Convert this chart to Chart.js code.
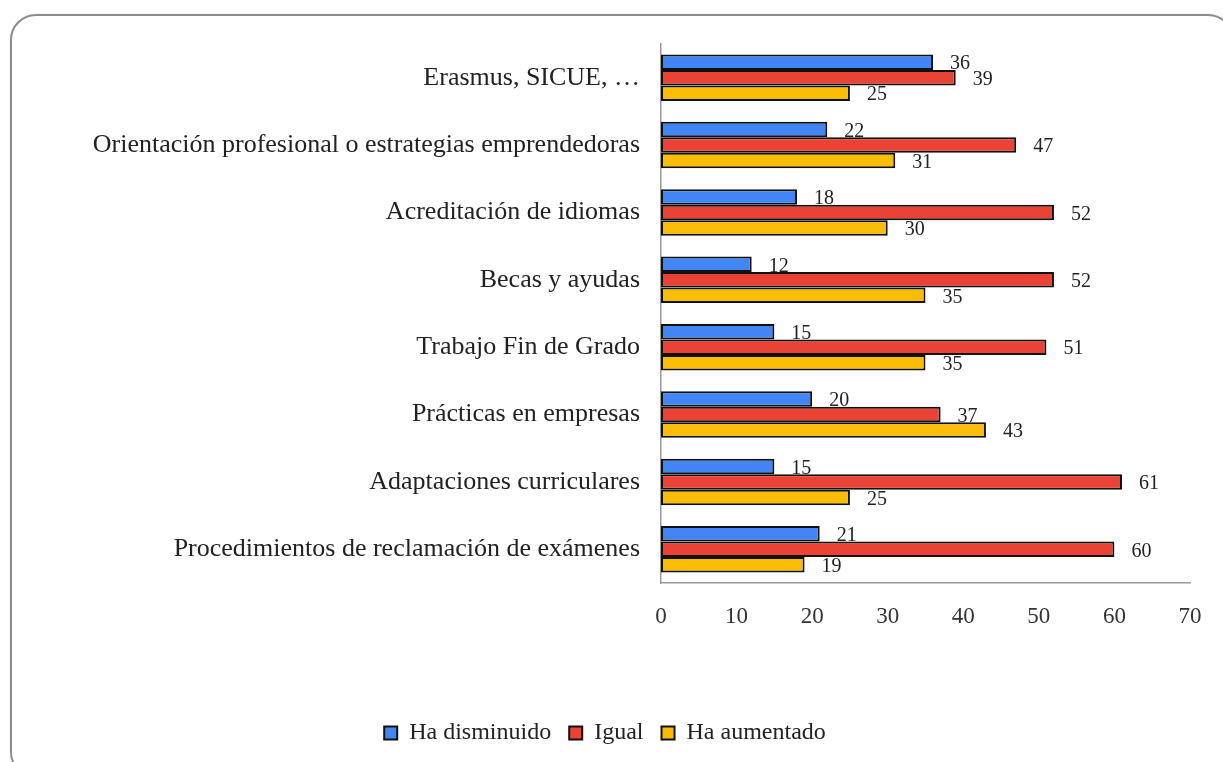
<!DOCTYPE html>
<html>
<head>
<meta charset="utf-8">
<script src="https://cdn.jsdelivr.net/npm/chart.js@4.4.1/dist/chart.umd.min.js"></script>
<style>
    html, body { margin: 0; padding: 0; background: #fff; overflow: hidden; }
    #frame {
        position: absolute;
        left: 10px;
        top: 14px;
        width: 1220px;
        height: 760px;
        border: 2px solid #8c8c8c;
        border-radius: 26px;
        box-shadow: 1px 1px 3px rgba(0, 0, 0, 0.25);
    }
    #wrap { position: absolute; left: 0; top: 0; width: 1223px; height: 762px; }
</style>
</head>
<body>
<div id="frame"></div>
<div id="wrap"><canvas id="chart" width="1223" height="762"></canvas></div>
<script>
const categories = [
    'Erasmus, SICUE, \u2026',
    'Orientación profesional o estrategias emprendedoras',
    'Acreditación de idiomas',
    'Becas y ayudas',
    'Trabajo Fin de Grado',
    'Prácticas en empresas',
    'Adaptaciones curriculares',
    'Procedimientos de reclamación de exámenes'
];
const haDisminuido = [36, 22, 18, 12, 15, 20, 15, 21];
const igual = [39, 47, 52, 52, 51, 37, 61, 60];
const haAumentado = [25, 31, 30, 35, 35, 43, 25, 19];
const seriesNames = ['Ha disminuido', 'Igual', 'Ha aumentado'];
const seriesColors = ['#4285f4', '#ea4335', '#fbbc04'];

const serif = '"Liberation Serif", "Times New Roman", serif';

// value labels to the right of each bar
const barValueLabels = {
    id: 'barValueLabels',
    afterDatasetsDraw(chart) {
        const ctx = chart.ctx;
        ctx.save();
        ctx.font = '20px ' + serif;
        ctx.fillStyle = '#222';
        ctx.textAlign = 'left';
        ctx.textBaseline = 'middle';
        chart.data.datasets.forEach((ds, i) => {
            const meta = chart.getDatasetMeta(i);
            meta.data.forEach((bar, j) => {
                ctx.fillText(ds.data[j], bar.x + 17, bar.y + 2);
            });
        });
        ctx.restore();
    }
};

const ctx = document.getElementById('chart').getContext('2d');

new Chart(ctx, {
    type: 'bar',
    data: {
        labels: categories,
        datasets: [haDisminuido, igual, haAumentado].map((values, i) => ({
            label: seriesNames[i],
            data: values,
            backgroundColor: seriesColors[i],
            borderColor: '#111',
            borderWidth: 2,
            borderSkipped: false,
            categoryPercentage: 0.69,
            barPercentage: 1.0
        }))
    },
    options: {
        indexAxis: 'y',
        responsive: false,
        animation: false,
        layout: {
            padding: { top: 44, left: 20, right: 33, bottom: 7 }
        },
        scales: {
            x: {
                min: 0,
                max: 70,
                ticks: {
                    stepSize: 10,
                    padding: 20,
                    color: '#333',
                    font: { family: serif, size: 23 }
                },
                grid: { display: false, drawTicks: false },
                border: { display: true, color: '#9a9a9a', width: 1.5 },
                afterFit(scale) { scale.height = 120; }
            },
            y: {
                ticks: {
                    padding: 21,
                    color: '#222',
                    font: { family: serif, size: 26 }
                },
                grid: { display: false, drawTicks: false },
                border: { display: true, color: '#9a9a9a', width: 1.5 },
                afterFit(scale) { scale.width = 641; }
            }
        },
        plugins: {
            legend: {
                position: 'bottom',
                labels: {
                    boxWidth: 13,
                    boxHeight: 13,
                    padding: 18,
                    color: '#222',
                    font: { family: serif, size: 24 }
                }
            },
            tooltip: { enabled: false }
        }
    },
    plugins: [barValueLabels]
});
</script>
</body>
</html>
